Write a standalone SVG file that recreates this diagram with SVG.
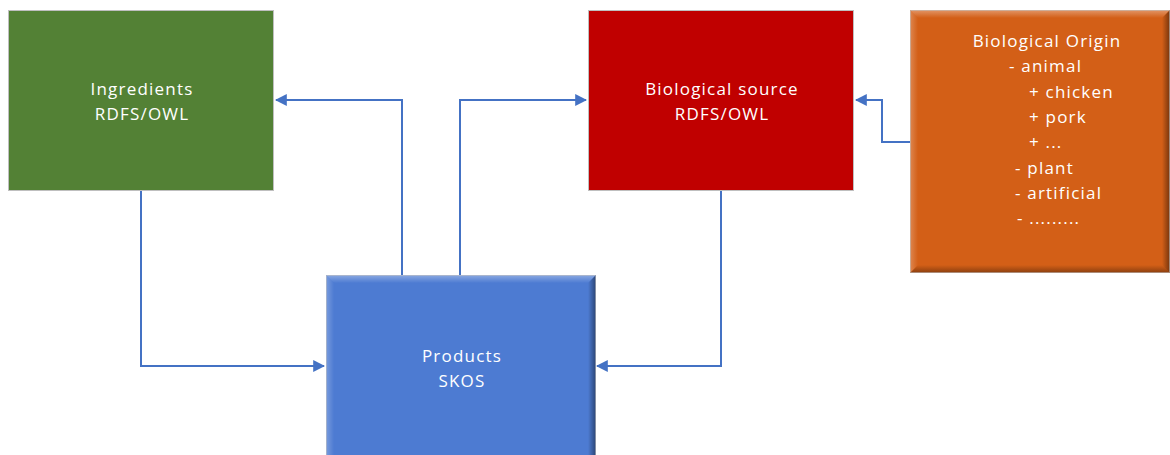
<svg xmlns="http://www.w3.org/2000/svg" width="1170" height="455" viewBox="0 0 1170 455">
<defs>
<style>
.t{font-family:"Open Sans","Liberation Sans",sans-serif;font-size:17px;letter-spacing:1.2px;fill:#ffffff}
.c{text-anchor:middle}
.box{stroke:#bfbfbf;stroke-width:1}
.conn{fill:none;stroke:#4472C4;stroke-width:2}
</style>
<marker id="ah" viewBox="0 0 10 10" refX="9" refY="5" markerWidth="6" markerHeight="6" markerUnits="strokeWidth" orient="auto">
<path d="M0,0 L10,5 L0,10 z" fill="#4472C4"/>
</marker>
<linearGradient id="bevT" x1="0" y1="0" x2="0" y2="1"><stop offset="0" stop-color="#fff" stop-opacity="0.35"/><stop offset="1" stop-color="#fff" stop-opacity="0"/></linearGradient>
<linearGradient id="bevR" x1="0" y1="0" x2="1" y2="0"><stop offset="0" stop-color="#000" stop-opacity="0"/><stop offset="1" stop-color="#000" stop-opacity="0.45"/></linearGradient>
<linearGradient id="bevL" x1="0" y1="0" x2="1" y2="0"><stop offset="0" stop-color="#fff" stop-opacity="0.25"/><stop offset="1" stop-color="#fff" stop-opacity="0"/></linearGradient>
<linearGradient id="bevB" x1="0" y1="0" x2="0" y2="1"><stop offset="0" stop-color="#000" stop-opacity="0"/><stop offset="1" stop-color="#000" stop-opacity="0.35"/></linearGradient>
</defs>
<rect width="1170" height="455" fill="#ffffff"/>
<g id="connectors">
<polyline class="conn" points="402,275 402,100 276,100" marker-end="url(#ah)"/>
<polyline class="conn" points="460,275 460,100 586,100" marker-end="url(#ah)"/>
<polyline class="conn" points="141,190 141,366 324,366" marker-end="url(#ah)"/>
<polyline class="conn" points="721,190 721,366 597,366" marker-end="url(#ah)"/>
<polyline class="conn" points="910,142 882,142 882,100 856,100" marker-end="url(#ah)"/>
</g>
<g id="ingredients">
<rect class="box" x="8.5" y="10.5" width="265" height="180" fill="#538135"/>
<text class="t c" x="142" y="95">Ingredients</text>
<text class="t c" x="142" y="120">RDFS/OWL</text>
</g>
<g id="biological-source">
<rect class="box" x="588.5" y="10.5" width="265" height="180" fill="#C00000"/>
<text class="t c" x="722" y="95">Biological source</text>
<text class="t c" x="722" y="120">RDFS/OWL</text>
</g>
<g id="biological-origin">
<rect x="910" y="10" width="260" height="263" fill="#D35F17"/>
<polygon points="910,10 1170,10 1162,18 918,18" fill="url(#bevT)"/>
<polygon points="910,10 918,18 918,265 910,273" fill="url(#bevL)"/>
<polygon points="1170,10 1170,273 1162,265 1162,18" fill="url(#bevR)"/>
<polygon points="910,273 1170,273 1162,265 918,265" fill="url(#bevB)"/>
<rect x="910.5" y="10.5" width="259" height="262" fill="none" stroke="#bfbfbf" stroke-opacity="0.6"/>
<text class="t c" x="1047" y="47">Biological Origin</text>
<text class="t" x="1009" y="72">- animal</text>
<text class="t" x="1029" y="98">+ chicken</text>
<text class="t" x="1029" y="123">+ pork</text>
<text class="t" x="1029" y="148">+ ...</text>
<text class="t" x="1015" y="174">- plant</text>
<text class="t" x="1015" y="199">- artificial</text>
<text class="t" x="1017" y="224">- .........</text>
</g>
<g id="products">
<rect x="326" y="275" width="270" height="185" fill="#4D7BD2"/>
<polygon points="326,275 596,275 588,283 334,283" fill="url(#bevT)"/>
<polygon points="326,275 334,283 334,460 326,460" fill="url(#bevL)"/>
<polygon points="596,275 596,460 588,460 588,283" fill="url(#bevR)"/>
<rect x="326.5" y="275.5" width="269" height="185" fill="none" stroke="#bfbfbf" stroke-opacity="0.6"/>
<text class="t c" x="462" y="362">Products</text>
<text class="t c" x="462" y="387">SKOS</text>
</g>
</svg>
